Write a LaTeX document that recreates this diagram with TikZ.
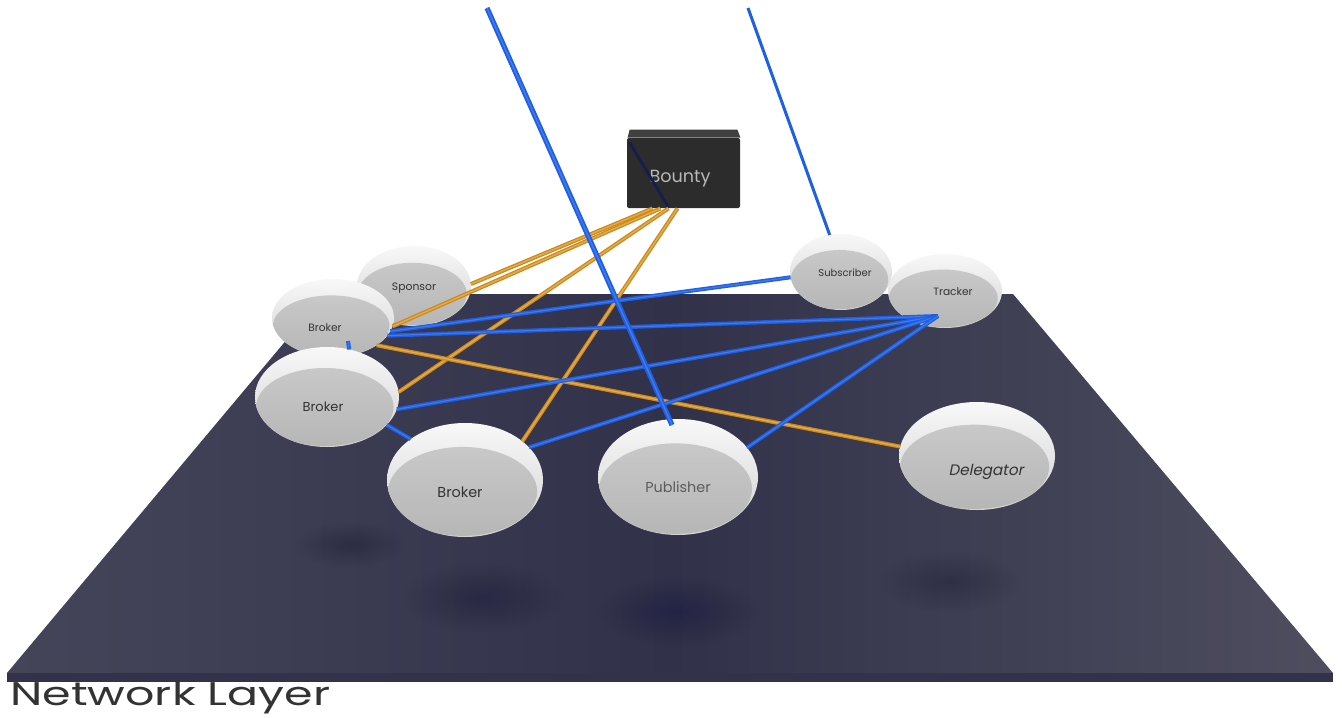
\documentclass[tikz,border=0pt]{standalone}
\usepackage{fontspec}
\setmainfont{Poppins}
\newfontfamily\slantfont{Poppins}[FakeSlant=0.2]
\usetikzlibrary{shapes.geometric,calc}
\definecolor{planeL}{HTML}{45455A}
\definecolor{planeM}{HTML}{31314A}
\definecolor{planeR}{HTML}{4E4E5F}
\definecolor{planeSide}{HTML}{32324A}
\definecolor{shadowc}{HTML}{1C1C46}
\definecolor{rimtop}{HTML}{F8F8F8}
\definecolor{rimbot}{HTML}{D2D2D2}
\definecolor{facetop}{HTML}{CDCDCD}
\definecolor{facebot}{HTML}{B6B6B6}
\definecolor{labelc}{HTML}{333333}
\definecolor{wireblue}{HTML}{1F5FE2}
\definecolor{wireblueL}{HTML}{3F78F0}
\definecolor{wireorange}{HTML}{C98A22}
\definecolor{wireorangeL}{HTML}{E8AA42}
\definecolor{boxfront}{HTML}{2C2C2C}
\definecolor{boxtop}{HTML}{404040}
\definecolor{boxtext}{HTML}{B8B8B8}
\definecolor{navyline}{HTML}{141C50}
\newcommand{\disklabel}[3]{\raisebox{-#2pt}[0.7em][0pt]{\makebox[0pt]{\hspace*{#1pt}\hspace*{#1pt}#3}}}
\begin{document}
\begin{tikzpicture}[x=0.5pt,y=-0.5pt,
  disk/.style 2 args={ellipse, inner sep=0pt, outer sep=0pt,
    minimum width=#1pt, minimum height=#2pt,
    top color=rimtop, bottom color=rimbot, draw=none, text=labelc,
    path picture={\shade[top color=facetop, bottom color=facebot]
      ([shift={(-0.03*#1,0.2*#2)}]path picture bounding box.center)
      ellipse ({0.4775*#1*1pt} and {0.39*#2*1pt});}},
  bluewire/.style={draw=wireblue, line width=2pt, postaction={draw=wireblueL, line width=0.6pt}},
  thinwire/.style={draw=wireblue, line width=1.5pt},
  longwire/.style={draw=wireblue, line width=2.6pt, postaction={draw=wireblueL, line width=0.8pt}},
  orangewire/.style={draw=wireorange, line width=2pt, postaction={draw=wireorangeL, line width=0.7pt}},
  bountybox/.style={rectangle, fill=boxfront, minimum width=56.5pt, minimum height=35pt,
    inner sep=0pt, text=boxtext, font=\fontsize{8.8}{10}\selectfont, rounded corners=1pt}
]
\useasboundingbox (0,0) rectangle (1342,717);
\fill[white] (0,0) rectangle (1342,717);
% plane
\shade[left color=planeL, right color=planeR, middle color=planeM]
  (325,294) -- (1013,294) -- (1333,673) -- (7,673) -- cycle;
\fill[planeSide] (7,673) -- (1333,673) -- (1333,682) -- (7,682) -- cycle;
% soft shadows on the plane
\foreach \cx/\cy/\rx/\ry in {482/598/80/34, 678/612/80/34, 950/582/70/30, 350/545/55/22}{
  \foreach \k in {1,...,14}{
    \fill[shadowc, opacity=0.025] (\cx,\cy) ellipse ({\rx*\k/14*0.5pt} and {\ry*\k/14*0.5pt});
  }
}
% nodes (back to front)
\node[disk={51}{38}, font=\fontsize{5}{6}\selectfont] (sub) at (841,272) {\disklabel{2}{0.5}{Subscriber}};
\node[disk={57}{40}, font=\fontsize{5.4}{6}\selectfont] (sp) at (414,286) {\disklabel{0}{0.5}{Sponsor}};
\node[disk={57}{37}, font=\fontsize{5.3}{6}\selectfont] (trk) at (945,291) {\disklabel{4}{0.5}{Tracker}};
\node[disk={61}{39}, font=\fontsize{5.3}{6}\selectfont] (b1) at (333,318) {\disklabel{-4}{5}{Broker}};
\node[disk={72}{50}, font=\fontsize{6.5}{7}\selectfont] (b2) at (327,397) {\disklabel{-2}{5}{Broker}};
\node[disk={78}{54}, font=\fontsize{7.6}{8}\selectfont\slantfont] (del) at (977,456) {\disklabel{4.5}{7}{Delegator}};
\node[disk={80}{58}, font=\fontsize{7.2}{8}\selectfont, text=labelc!80] (pub) at (678,477) {\disklabel{0}{5}{Publisher}};
\node[disk={78}{57}, font=\fontsize{7.2}{8}\selectfont] (b3) at (465,480) {\disklabel{-2.5}{6}{Broker}};
% bounty box
\node[bountybox] (bty) at (683.5,173) {\disklabel{-1.75}{1.5}{Bounty}};
\fill[boxtop] ([shift={(1,0)}]bty.north west) -- ([shift={(3,-8)}]bty.north west)
  -- ([shift={(-3,-8)}]bty.north east) -- (bty.north east) -- cycle;
\draw[navyline, line width=1.3pt] ([shift={(3,5)}]bty.north west) -- ([shift={(42,-1)}]bty.south west);
% hubs and free ends
\coordinate (trkhub) at (938,316);
\coordinate (b1hub) at (348,341);
\coordinate (pubhub) at (672,425);
\coordinate (topA) at (487,8);
\coordinate (topB) at (748,8);
% orange connectors
\draw[orangewire] ([shift={(-31,0)}]bty.south) -- (sp.2);
\draw[orangewire] ([shift={(-23,0)}]bty.south) -- (b1.-8);
\draw[orangewire] ([shift={(-15,0)}]bty.south) -- (b2.4);
\draw[orangewire] ([shift={(-6,0)}]bty.south) -- (b3.34);
\draw[orangewire] (b1.-32) -- (del.173);
% blue connectors
\draw[thinwire] (topB) -- (sub.107);
\draw[bluewire] (sub.186) -- (b1.-13);
\draw[bluewire] (trkhub) -- (b1.-18);
\draw[bluewire] (trkhub) -- (b2.-10);
\draw[bluewire] (trkhub) -- (b3.27);
\draw[bluewire] (trkhub) -- (pub.23);
\draw[bluewire] (b1hub) -- (b2.65);
\draw[bluewire] (b2.-25) -- (b3.143);
\draw[longwire] (topA) -- (pubhub);
% layer caption
\node[anchor=base west, inner sep=0pt, text=labelc, font=\fontsize{16.4}{18}\selectfont] (nl) at (10,705) {\scalebox{1.4}[1]{Network Layer}};
\end{tikzpicture}
\end{document}
